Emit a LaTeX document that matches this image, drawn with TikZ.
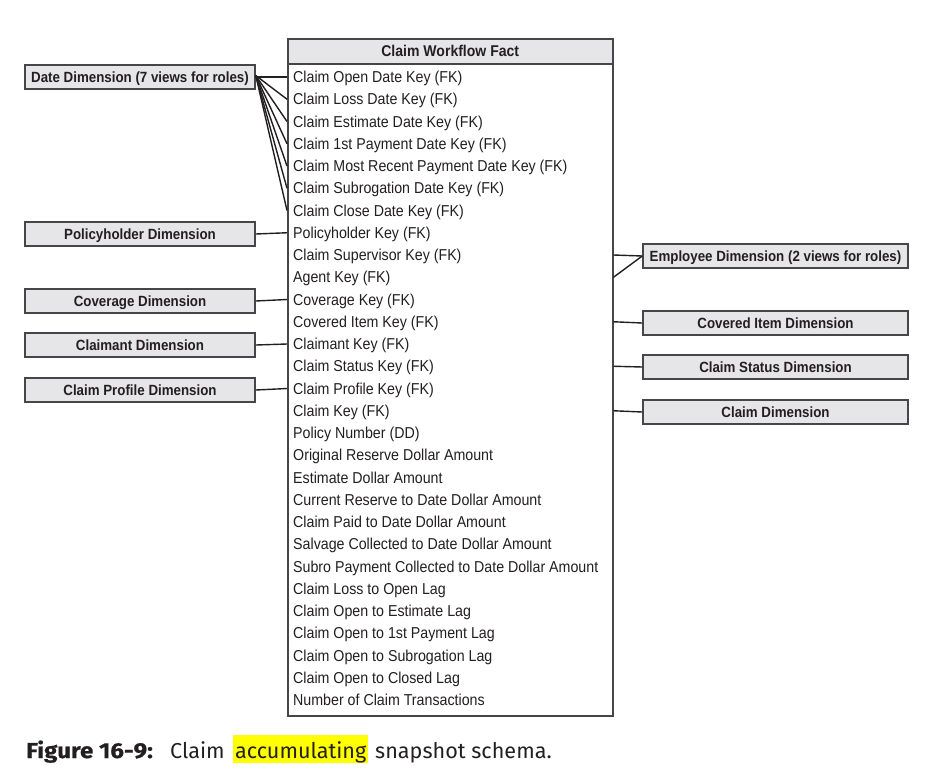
\documentclass[tikz,border=0pt]{standalone}
\usepackage{fontspec}
\newfontfamily\cond{Liberation Sans}[FakeStretch=0.9]
\newfontfamily\capfont{Fira Sans}
\newfontfamily\capbold{Fira Sans}[FakeStretch=1.12,BoldFeatures={FakeBold=0.6}]
\definecolor{boxgray}{RGB}{230,230,232}
\definecolor{ink}{RGB}{35,31,32}
\definecolor{edge}{RGB}{70,70,72}
\definecolor{hl}{RGB}{255,255,0}
\begin{document}
\begin{tikzpicture}[x=1pt,y=-1pt,
  rowtext/.style={anchor=base west,inner sep=0pt,font=\cond\fontsize{15.8}{18}\selectfont,text=ink},
  dimbox/.style={draw=edge,line width=1.5pt,fill=boxgray,minimum height=24pt,inner sep=0pt,text height=10.6pt,text depth=0pt,font=\cond\bfseries\fontsize{14.8}{18}\selectfont,text=ink},
  leftdim/.style={dimbox,minimum width=230pt},
  rightdim/.style={dimbox,minimum width=265pt},
  conn/.style={draw=ink,line width=1.4pt},
  captext/.style={anchor=base west,inner sep=0pt,font=\capfont\fontsize{21.6}{24}\selectfont,text=ink}]
\useasboundingbox (0,0) rectangle (940,769);
% fact table
\node[draw=edge,line width=1.5pt,fill=boxgray,minimum width=325pt,minimum height=25pt,inner sep=0pt,text height=11pt,text depth=0pt,anchor=north west,font=\cond\bfseries\fontsize{15.6}{18}\selectfont,text=ink] (head) at (287,38) {Claim Workflow Fact};
\node[draw=edge,line width=1.5pt,fill=white,minimum width=325pt,minimum height=652pt,inner sep=0pt,anchor=north west] (fact) at (287,63) {};
\foreach \t [count=\i] in {
Claim Open Date Key (FK),
Claim Loss Date Key (FK),
Claim Estimate Date Key (FK),
Claim 1st Payment Date Key (FK),
Claim Most Recent Payment Date Key (FK),
Claim Subrogation Date Key (FK),
Claim Close Date Key (FK),
Policyholder Key (FK),
Claim Supervisor Key (FK),
Agent Key (FK),
Coverage Key (FK),
Covered Item Key (FK),
Claimant Key (FK),
Claim Status Key (FK),
Claim Profile Key (FK),
Claim Key (FK),
Policy Number (DD),
Original Reserve Dollar Amount,
Estimate Dollar Amount,
Current Reserve to Date Dollar Amount,
Claim Paid to Date Dollar Amount,
Salvage Collected to Date Dollar Amount,
Subro Payment Collected to Date Dollar Amount,
Claim Loss to Open Lag,
Claim Open to Estimate Lag,
Claim Open to 1st Payment Lag,
Claim Open to Subrogation Lag,
Claim Open to Closed Lag,
Number of Claim Transactions}
{\coordinate (c\i) at (293,{77+(\i-1)*22.25});
 \node[rowtext] (r\i) at ([yshift=-5.6pt]c\i) {\t};}
% left dimensions
\node[leftdim] (date) at (140,77) {Date Dimension (7 views for roles)};
\node[leftdim] (policy) at (140,234) {Policyholder Dimension};
\node[leftdim] (cov) at (140,301) {Coverage Dimension};
\node[leftdim] (claimant) at (140,345) {Claimant Dimension};
\node[leftdim] (profile) at (140,390) {Claim Profile Dimension};
% right dimensions
\node[rightdim] (emp) at (775.5,256) {Employee Dimension (2 views for roles)};
\node[rightdim] (item) at (775.5,323) {Covered Item Dimension};
\node[rightdim] (status) at (775.5,367) {Claim Status Dimension};
\node[rightdim] (claim) at (775.5,412) {Claim Dimension};
% connectors
\draw[conn] (date.east) -- (fact.west |- c1);
\foreach \i in {2,...,7} {\draw[conn] ([yshift=1.5pt]date.east) -- (fact.west |- c\i);}
\draw[conn] (policy.east) -- (fact.west |- c8);
\draw[conn] (cov.east) -- (fact.west |- c11);
\draw[conn] (claimant.east) -- (fact.west |- c13);
\draw[conn] (profile.east) -- (fact.west |- c15);
\draw[conn] (fact.east |- c9) -- (emp.west);
\draw[conn] (fact.east |- c10) -- (emp.west);
\draw[conn] (fact.east |- c12) -- (item.west);
\draw[conn] (fact.east |- c14) -- (status.west);
\draw[conn] (fact.east |- c16) -- (claim.west);
% caption
\node[captext,font=\capbold\bfseries\fontsize{21.6}{24}\selectfont] (cap1) at (26,758) {Figure 16-9:};
\node[captext] (cap2) at (170,758) {Claim};
\node[captext,fill=hl,inner xsep=2pt,inner ysep=0pt,text height=23pt,text depth=5pt] (cap3) at (233,758) {accumulating};
\node[captext] (cap4) at (375,758) {snapshot schema.};
\end{tikzpicture}
\end{document}
